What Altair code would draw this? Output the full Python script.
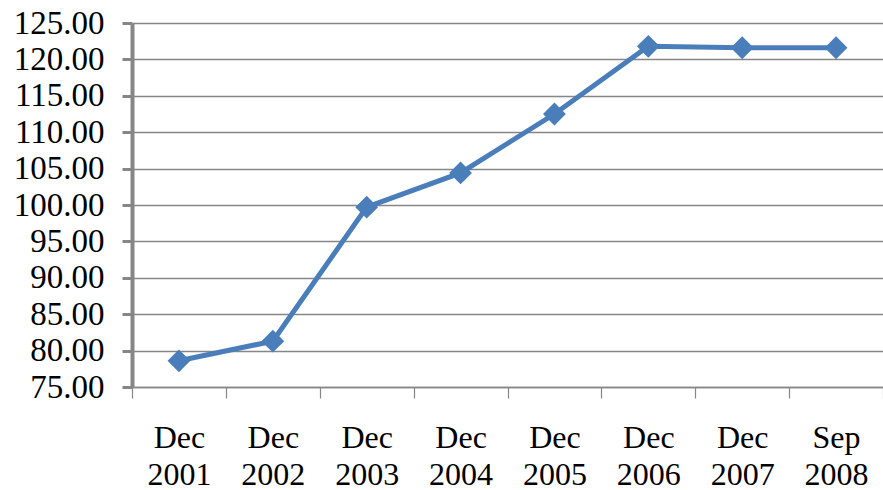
import altair as alt
import pandas as pd

categories = ["Dec 2001", "Dec 2002", "Dec 2003", "Dec 2004",
              "Dec 2005", "Dec 2006", "Dec 2007", "Sep 2008"]
values = [78.6, 81.3, 99.7, 104.4, 112.5, 121.8, 121.6, 121.6]
y_ticks = [75, 80, 85, 90, 95, 100, 105, 110, 115, 120, 125]

df = pd.DataFrame({"period": categories, "value": values})

FONT = "Liberation Serif"
GRAY = "#868686"
BLUE = "#4A7EBB"

x = alt.X(
    "period:N",
    sort=categories,
    scale=alt.Scale(type="band", paddingInner=0, paddingOuter=0),
    axis=alt.Axis(
        title=None,
        labelAngle=0,
        labelExpr="split(datum.label, ' ')",
        labelFont=FONT,
        labelFontSize=32,
        labelColor="black",
        labelLineHeight=37,
        labelPadding=24,
        tickBand="extent",
        tickColor=GRAY,
        tickSize=11,
        tickWidth=1.2,
        domainColor=GRAY,
        domainWidth=1.5,
        grid=False,
    ),
)
y = alt.Y(
    "value:Q",
    scale=alt.Scale(domain=[75, 125], nice=False, zero=False),
    axis=alt.Axis(
        title=None,
        values=y_ticks,
        format=".2f",
        labelFont=FONT,
        labelFontSize=33,
        labelColor="black",
        labelPadding=18,
        tickColor=GRAY,
        tickSize=10,
        tickWidth=3,
        domainColor=GRAY,
        domainWidth=4,
        grid=True,
        gridColor=GRAY,
        gridWidth=1.5,
    ),
)

chart = (
    alt.Chart(df)
    .mark_line(
        color=BLUE,
        strokeWidth=5,
        point=alt.OverlayMarkDef(shape="diamond", size=520, filled=True, color=BLUE, opacity=1),
    )
    .encode(x=x, y=y)
    .properties(
        width=751,
        height=364,
        autosize=alt.AutoSizeParams(type="none"),
        padding={"left": 132, "top": 23, "right": 0, "bottom": 103},
        background="white",
    )
    .configure_view(stroke=None)
)

chart.save("out.html", embed_options={"renderer": "svg", "actions": False})
